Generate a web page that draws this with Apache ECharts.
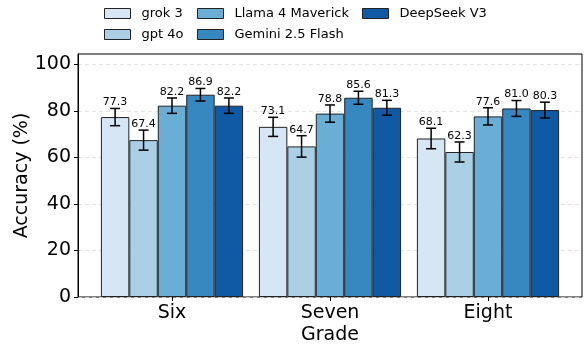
<!DOCTYPE html>
<html><head><meta charset="utf-8">
<script src="https://cdn.jsdelivr.net/npm/echarts@6/dist/echarts.min.js"></script>
<style>html,body{margin:0;padding:0;background:#fff}#c{width:584px;height:345px}</style>
</head><body><div id="c"></div>
<script>
const categories = ['Six', 'Seven', 'Eight'];
const models = ['grok 3', 'gpt 4o', 'Llama 4 Maverick', 'Gemini 2.5 Flash', 'DeepSeek V3'];
const grok3 = [77.3, 73.1, 68.1];
const gpt4o = [67.4, 64.7, 62.3];
const llama4 = [82.2, 78.8, 77.6];
const gemini25 = [86.9, 85.6, 81.0];
const deepseekV3 = [82.2, 81.3, 80.3];
const grok3Err = [3.7, 4.1, 4.4];
const gpt4oErr = [4.3, 4.6, 4.3];
const llama4Err = [3.3, 3.7, 3.7];
const gemini25Err = [2.7, 2.8, 3.4];
const deepseekV3Err = [3.3, 3.2, 3.4];
const yTicks = [0, 20, 40, 60, 80, 100];

const values = [grok3, gpt4o, llama4, gemini25, deepseekV3];
const errs = [grok3Err, gpt4oErr, llama4Err, gemini25Err, deepseekV3Err];
const colors = ['#d6e6f4', '#abd0e6', '#6aaed6', '#3787c0', '#1059a5'];
const FONT = 'DejaVu Sans';
const YMAX = 104.4;
const nModels = models.length;
const groupFrac = 0.9;

const chart = echarts.init(document.getElementById('c'));

const series = [];
models.forEach((m, j) => {
  series.push({
    name: m, type: 'bar', xAxisIndex: 1, yAxisIndex: 1,
    data: values[j], barGap: '0%', barCategoryGap: '10%',
    itemStyle: { color: colors[j], borderColor: '#222', borderWidth: 1 },
    emphasis: { disabled: true }, z: 3
  });
});
models.forEach((m, j) => {
  series.push({
    name: 'err_' + m, type: 'custom', xAxisIndex: 1, yAxisIndex: 1,
    data: values[j].map((v, i) => [i, v, errs[j][i]]),
    encode: { x: 0, y: 1 }, z: 5, silent: true,
    renderItem: function (params, api) {
      const ci = api.value(0), v = api.value(1), e = api.value(2);
      const band = api.size([1, 0])[0];
      const bw = band * groupFrac / nModels;
      const c = api.coord([ci, v]);
      const x = c[0] + (j - (nModels - 1) / 2) * bw;
      const yTop = api.coord([ci, v + e])[1];
      const yBot = api.coord([ci, v - e])[1];
      const cap = 5;
      const ls = { stroke: '#000', lineWidth: 1.5 };
      return {
        type: 'group', children: [
          { type: 'line', shape: { x1: x, y1: yTop, x2: x, y2: yBot }, style: ls },
          { type: 'line', shape: { x1: x - cap, y1: yTop, x2: x + cap, y2: yTop }, style: ls },
          { type: 'line', shape: { x1: x - cap, y1: yBot, x2: x + cap, y2: yBot }, style: ls },
          { type: 'text', style: { text: v.toFixed(1), x: x, y: yTop - 0.5, textAlign: 'center', textVerticalAlign: 'bottom', font: '11px "' + FONT + '"', fill: '#000' } }
        ]
      };
    }
  });
});

const legendBase = {
  orient: 'vertical', top: 7, padding: 0, itemWidth: 26, itemHeight: 10, itemGap: 8,
  icon: 'rect', selectedMode: false,
  itemStyle: { borderColor: '#222', borderWidth: 1 },
  formatter: function (name) { return '{g|}' + name; },
  textStyle: {
    fontFamily: FONT, fontSize: 13, color: '#000', lineHeight: 13,
    rich: { g: { width: 6, fontSize: 13, fontFamily: FONT } }
  }
};

chart.setOption({
  animation: false,
  textStyle: { fontFamily: FONT },
  grid: [
    { left: 78, right: 2, top: 54, bottom: 48, show: true, borderColor: '#000', borderWidth: 1, backgroundColor: 'transparent', containLabel: false, outerBoundsMode: 'none' },
    { left: 93, right: 17, top: 54, bottom: 48, containLabel: false, outerBoundsMode: 'none' }
  ],
  legend: [
    Object.assign({}, legendBase, { left: 104, data: [models[0], models[1]] }),
    Object.assign({}, legendBase, { left: 197, data: [models[2], models[3]] }),
    Object.assign({}, legendBase, { left: 362, data: [models[4]] })
  ],
  xAxis: [
    { type: 'value', gridIndex: 0, min: 0, max: 1, show: false },
    {
      type: 'category', gridIndex: 1, data: categories,
      axisLine: { show: false },
      axisTick: { show: true, alignWithLabel: true, length: 4, lineStyle: { color: '#000', width: 1 } },
      axisLabel: { fontSize: 19, color: '#000', margin: 7, fontFamily: FONT },
      name: 'Grade', nameLocation: 'middle', nameGap: 29, nameMoveOverlap: false,
      nameTextStyle: { fontSize: 19, color: '#000', fontFamily: FONT }
    }
  ],
  yAxis: [
    {
      type: 'value', gridIndex: 0, min: 0, max: YMAX, interval: 20,
      axisLine: { show: true, lineStyle: { color: '#000' } },
      axisTick: { show: true, length: 4, lineStyle: { color: '#000' }, customValues: yTicks },
      axisLabel: { fontSize: 19, color: '#000', margin: 7, fontFamily: FONT, customValues: yTicks },
      splitLine: { show: true, lineStyle: { color: '#dddddd', type: [4, 3], width: 0.8 } },
      name: 'Accuracy (%)', nameLocation: 'middle', nameGap: 46, nameMoveOverlap: false,
      nameTextStyle: { fontSize: 19, color: '#000', fontFamily: FONT }
    },
    { type: 'value', gridIndex: 1, min: 0, max: YMAX, show: false }
  ],
  series: series
});
</script></body></html>
